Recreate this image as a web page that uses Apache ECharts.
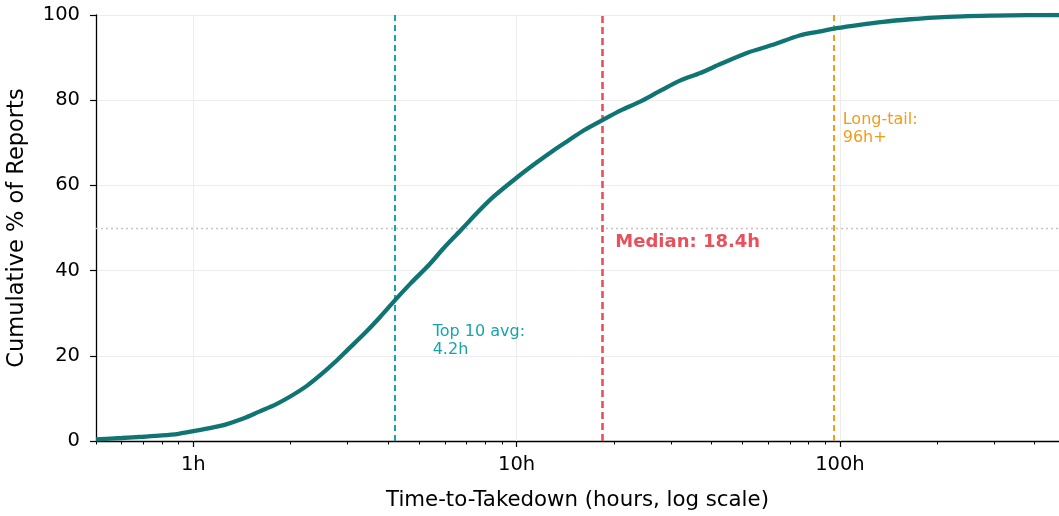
<!DOCTYPE html>
<html>
<head>
<meta charset="utf-8">
<script src="https://cdn.jsdelivr.net/npm/echarts@6/dist/echarts.min.js"></script>
<style>html,body{margin:0;padding:0;background:#fff}#c{width:1059px;height:516px}</style>
</head>
<body>
<div id="c"></div>
<script>
const hours = [0.5, 0.6, 0.7, 0.8, 0.9, 1.0, 1.1, 1.25, 1.42, 1.6, 1.8, 2.0, 2.25, 2.5, 2.75, 3.0, 3.4, 3.77, 4.2, 4.7, 5.38, 6.0, 6.82, 7.6, 8.5, 10, 11.5, 13, 14.5, 16.2, 18.5, 21, 24, 27.5, 32, 37, 43, 52, 62, 75, 86, 97.6, 115, 136, 165, 195, 240, 300, 380, 476];
const cumPct = [0.4, 0.7, 1.0, 1.3, 1.7, 2.3, 2.9, 3.8, 5.2, 6.9, 8.6, 10.5, 13.0, 15.8, 18.6, 21.4, 25.4, 29.0, 33.0, 37.0, 41.5, 45.6, 50.0, 53.8, 57.4, 61.8, 65.3, 68.2, 70.6, 73.0, 75.4, 77.6, 79.6, 82.0, 84.6, 86.4, 88.6, 91.2, 93.0, 95.2, 96.1, 96.9, 97.7, 98.4, 99.0, 99.4, 99.7, 99.85, 99.95, 100];
const majorTicks = [1, 10, 100];
const minorTicks = [0.5, 0.6, 0.7, 0.8, 0.9, 2, 3, 4, 5, 6, 7, 8, 9, 20, 30, 40, 50, 60, 70, 80, 90, 200, 300, 400];
const refLines = [
  { name: 'Top 10 avg', value: 4.2 },
  { name: 'Median', value: 18.4 },
  { name: 'Long-tail', value: 96 }
];

const FONT = 'DejaVu Sans';
const curve = hours.map((h, i) => [h, cumPct[i]]);
const chart = echarts.init(document.getElementById('c'), null, { renderer: 'canvas' });

const xBase = {
  type: 'log', logBase: 10, min: 0.5, max: 476,
  gridIndex: 0, position: 'bottom'
};

chart.setOption({
  animation: false,
  backgroundColor: '#fff',
  textStyle: { fontFamily: FONT },
  grid: { left: 96, right: 0, top: 15, bottom: 75, containLabel: false, outerBoundsMode: 'none' },
  xAxis: [
    Object.assign({}, xBase, {
      name: 'Time-to-Takedown (hours, log scale)',
      nameLocation: 'middle', nameGap: 49,
      nameTextStyle: { fontFamily: FONT, fontSize: 21.3, color: '#000' },
      axisLine: { show: true, lineStyle: { color: '#000', width: 1.3 } },
      axisTick: { show: true, inside: false, length: 6, lineStyle: { color: '#000', width: 1.2 }, customValues: majorTicks },
      axisLabel: { show: true, fontFamily: FONT, fontSize: 19.5, color: '#000', margin: 14, customValues: majorTicks,
        formatter: v => Math.round(v) + 'h' },
      splitLine: { show: false }
    }),
    Object.assign({}, xBase, {
      axisLine: { show: false },
      axisTick: { show: true, inside: false, length: 3.5, lineStyle: { color: '#000', width: 1 }, customValues: minorTicks },
      axisLabel: { show: false },
      splitLine: { show: false }
    })
  ],
  yAxis: {
    type: 'value', min: 0, max: 100, interval: 20,
    name: 'Cumulative % of Reports', nameLocation: 'middle', nameGap: 67, nameRotate: 90,
    nameTextStyle: { fontFamily: FONT, fontSize: 22.5, color: '#000' },
    axisLine: { show: true, lineStyle: { color: '#000', width: 1.3 } },
    axisTick: { show: true, inside: false, length: 6, lineStyle: { color: '#000', width: 1.2 } },
    axisLabel: { fontFamily: FONT, fontSize: 19.5, color: '#000', margin: 16 },
    splitLine: { show: true, lineStyle: { color: '#ececec', width: 1 } }
  },
  series: [
    {
      type: 'line', xAxisIndex: 0, yAxisIndex: 0,
      data: [], silent: true,
      markLine: {
        silent: true, symbol: 'none', label: { show: false },
        lineStyle: { color: '#ececec', width: 1, type: 'solid' },
        data: majorTicks.map(v => ({ xAxis: v }))
      }
    },
    {
      type: 'line', xAxisIndex: 0, yAxisIndex: 0,
      data: [], silent: true, z: 3,
      markLine: {
        silent: true, symbol: 'none', label: { show: false },
        data: [
          { yAxis: 50, lineStyle: { color: '#c4c4c4', width: 1.3, type: [2, 3] } },
          { xAxis: refLines[0].value, lineStyle: { color: '#17a5ab', width: 2, type: [6, 4] } },
          { xAxis: refLines[1].value, lineStyle: { color: '#e8505b', width: 2.6, type: [7, 4] } },
          { xAxis: refLines[2].value, lineStyle: { color: '#f49b17', width: 2, type: [6, 4] } }
        ]
      }
    },
    {
      type: 'line', xAxisIndex: 0, yAxisIndex: 0,
      data: curve, showSymbol: false, smooth: 0.3, z: 5,
      lineStyle: { color: '#0f7472', width: 4.3 },
      markPoint: {
        symbolSize: 0, silent: true,
        data: [
          { coord: [5.5, 23.5], label: { show: true, position: 'inside', align: 'left', verticalAlign: 'middle',
              formatter: 'Top 10 avg:\n4.2h', color: '#17a5ab', fontSize: 16, lineHeight: 18.5, fontFamily: FONT } },
          { coord: [20.2, 46.6], label: { show: true, position: 'inside', align: 'left', verticalAlign: 'middle',
              formatter: 'Median: 18.4h', color: '#e8505b', fontSize: 18, fontWeight: 'bold', fontFamily: FONT } },
          { coord: [102, 73.3], label: { show: true, position: 'inside', align: 'left', verticalAlign: 'middle',
              formatter: 'Long-tail:\n96h+', color: '#f49b17', fontSize: 16, lineHeight: 18.5, fontFamily: FONT } }
        ]
      }
    },
    {
      type: 'line', xAxisIndex: 1, yAxisIndex: 0, data: [], silent: true
    }
  ]
});
</script>
</body>
</html>
